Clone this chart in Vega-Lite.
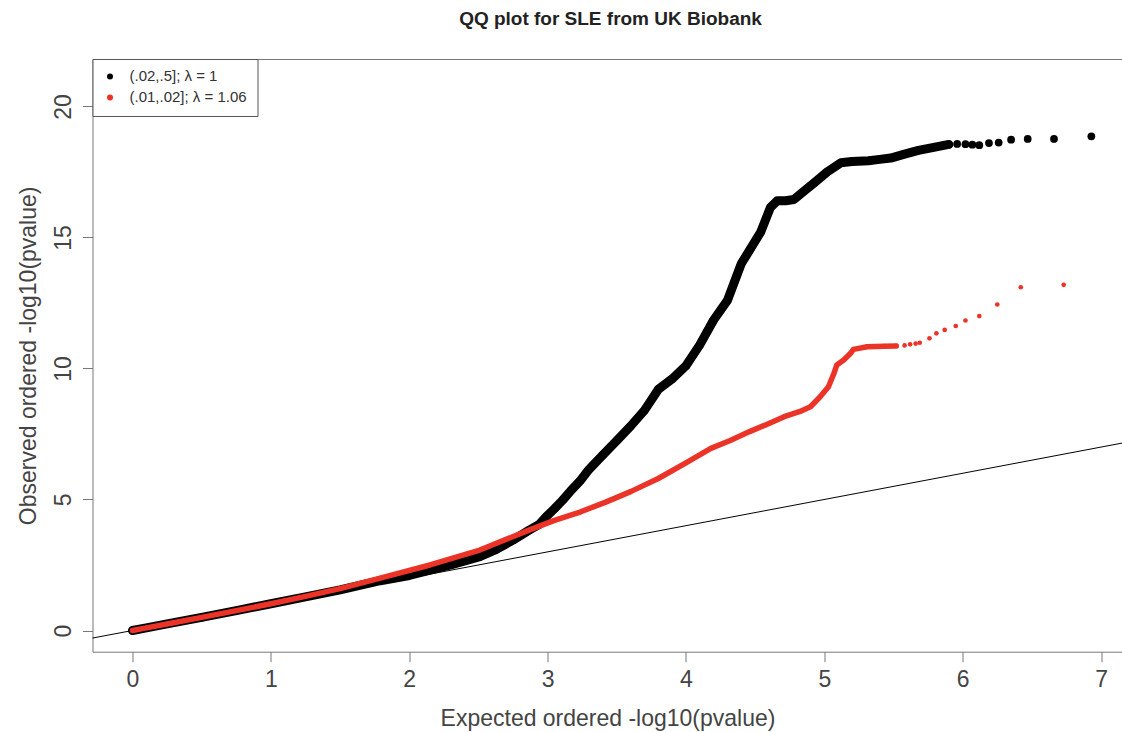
{
  "$schema": "https://vega.github.io/schema/vega-lite/v6.json",
  "width": 1030,
  "height": 592.7,
  "autosize": {"type": "none"},
  "padding": {"left": 92.5, "top": 59, "right": 0, "bottom": 80},
  "title": {"text": "QQ plot for SLE from UK Biobank", "fontSize": 19, "fontWeight": "bold", "font": "Liberation Sans", "color": "#222", "anchor": "middle", "offset": 29, "dx": 3},
  "datasets": {
    "ref": [{"x": -1, "y": -1}, {"x": 8, "y": 8}],
    "pts": [
      {"x": 0, "y": 0, "g": "(.02,.5]; λ = 1"},
      {"x": 0.1, "y": 0.1, "g": "(.02,.5]; λ = 1"},
      {"x": 0.25, "y": 0.25, "g": "(.02,.5]; λ = 1"},
      {"x": 0.5, "y": 0.5, "g": "(.02,.5]; λ = 1"},
      {"x": 0.75, "y": 0.76, "g": "(.02,.5]; λ = 1"},
      {"x": 1.0, "y": 1.02, "g": "(.02,.5]; λ = 1"},
      {"x": 1.25, "y": 1.28, "g": "(.02,.5]; λ = 1"},
      {"x": 1.5, "y": 1.55, "g": "(.02,.5]; λ = 1"},
      {"x": 1.79, "y": 1.9, "g": "(.02,.5]; λ = 1"},
      {"x": 2.0, "y": 2.1, "g": "(.02,.5]; λ = 1"},
      {"x": 2.15, "y": 2.3, "g": "(.02,.5]; λ = 1"},
      {"x": 2.3, "y": 2.5, "g": "(.02,.5]; λ = 1"},
      {"x": 2.51, "y": 2.82, "g": "(.02,.5]; λ = 1"},
      {"x": 2.63, "y": 3.1, "g": "(.02,.5]; λ = 1"},
      {"x": 2.75, "y": 3.45, "g": "(.02,.5]; λ = 1"},
      {"x": 2.87, "y": 3.84, "g": "(.02,.5]; λ = 1"},
      {"x": 2.94, "y": 4.05, "g": "(.02,.5]; λ = 1"},
      {"x": 2.99, "y": 4.34, "g": "(.02,.5]; λ = 1"},
      {"x": 3.05, "y": 4.65, "g": "(.02,.5]; λ = 1"},
      {"x": 3.11, "y": 4.98, "g": "(.02,.5]; λ = 1"},
      {"x": 3.17, "y": 5.35, "g": "(.02,.5]; λ = 1"},
      {"x": 3.24, "y": 5.74, "g": "(.02,.5]; λ = 1"},
      {"x": 3.3, "y": 6.15, "g": "(.02,.5]; λ = 1"},
      {"x": 3.4, "y": 6.7, "g": "(.02,.5]; λ = 1"},
      {"x": 3.5, "y": 7.25, "g": "(.02,.5]; λ = 1"},
      {"x": 3.6, "y": 7.8, "g": "(.02,.5]; λ = 1"},
      {"x": 3.7, "y": 8.4, "g": "(.02,.5]; λ = 1"},
      {"x": 3.8, "y": 9.2, "g": "(.02,.5]; λ = 1"},
      {"x": 3.9, "y": 9.6, "g": "(.02,.5]; λ = 1"},
      {"x": 4.0, "y": 10.1, "g": "(.02,.5]; λ = 1"},
      {"x": 4.1, "y": 10.9, "g": "(.02,.5]; λ = 1"},
      {"x": 4.2, "y": 11.85, "g": "(.02,.5]; λ = 1"},
      {"x": 4.3, "y": 12.6, "g": "(.02,.5]; λ = 1"},
      {"x": 4.4, "y": 14.0, "g": "(.02,.5]; λ = 1"},
      {"x": 4.47, "y": 14.6, "g": "(.02,.5]; λ = 1"},
      {"x": 4.54, "y": 15.2, "g": "(.02,.5]; λ = 1"},
      {"x": 4.61, "y": 16.14, "g": "(.02,.5]; λ = 1"},
      {"x": 4.66, "y": 16.4, "g": "(.02,.5]; λ = 1"},
      {"x": 4.72, "y": 16.4, "g": "(.02,.5]; λ = 1"},
      {"x": 4.78, "y": 16.45, "g": "(.02,.5]; λ = 1"},
      {"x": 4.85, "y": 16.75, "g": "(.02,.5]; λ = 1"},
      {"x": 4.93, "y": 17.1, "g": "(.02,.5]; λ = 1"},
      {"x": 5.02, "y": 17.5, "g": "(.02,.5]; λ = 1"},
      {"x": 5.12, "y": 17.85, "g": "(.02,.5]; λ = 1"},
      {"x": 5.2, "y": 17.9, "g": "(.02,.5]; λ = 1"},
      {"x": 5.32, "y": 17.93, "g": "(.02,.5]; λ = 1"},
      {"x": 5.4, "y": 17.98, "g": "(.02,.5]; λ = 1"},
      {"x": 5.48, "y": 18.03, "g": "(.02,.5]; λ = 1"},
      {"x": 5.58, "y": 18.18, "g": "(.02,.5]; λ = 1"},
      {"x": 5.68, "y": 18.32, "g": "(.02,.5]; λ = 1"},
      {"x": 5.8, "y": 18.45, "g": "(.02,.5]; λ = 1"},
      {"x": 5.9, "y": 18.55, "g": "(.02,.5]; λ = 1"},
      {"x": 5.96, "y": 18.57, "g": "(.02,.5]; λ = 1"},
      {"x": 6.02, "y": 18.56, "g": "(.02,.5]; λ = 1"},
      {"x": 6.07, "y": 18.54, "g": "(.02,.5]; λ = 1"},
      {"x": 6.12, "y": 18.52, "g": "(.02,.5]; λ = 1"},
      {"x": 6.19, "y": 18.6, "g": "(.02,.5]; λ = 1"},
      {"x": 6.26, "y": 18.62, "g": "(.02,.5]; λ = 1"},
      {"x": 6.35, "y": 18.73, "g": "(.02,.5]; λ = 1"},
      {"x": 6.47, "y": 18.76, "g": "(.02,.5]; λ = 1"},
      {"x": 6.66, "y": 18.76, "g": "(.02,.5]; λ = 1"},
      {"x": 6.93, "y": 18.86, "g": "(.02,.5]; λ = 1"},
      {"x": 0, "y": 0, "g": "(.01,.02]; λ = 1.06"},
      {"x": 0.1, "y": 0.1, "g": "(.01,.02]; λ = 1.06"},
      {"x": 0.25, "y": 0.25, "g": "(.01,.02]; λ = 1.06"},
      {"x": 0.5, "y": 0.5, "g": "(.01,.02]; λ = 1.06"},
      {"x": 0.75, "y": 0.76, "g": "(.01,.02]; λ = 1.06"},
      {"x": 1.0, "y": 1.02, "g": "(.01,.02]; λ = 1.06"},
      {"x": 1.25, "y": 1.3, "g": "(.01,.02]; λ = 1.06"},
      {"x": 1.5, "y": 1.6, "g": "(.01,.02]; λ = 1.06"},
      {"x": 1.79, "y": 2.0, "g": "(.01,.02]; λ = 1.06"},
      {"x": 2.15, "y": 2.5, "g": "(.01,.02]; λ = 1.06"},
      {"x": 2.51, "y": 3.07, "g": "(.01,.02]; λ = 1.06"},
      {"x": 2.87, "y": 3.84, "g": "(.01,.02]; λ = 1.06"},
      {"x": 3.05, "y": 4.2, "g": "(.01,.02]; λ = 1.06"},
      {"x": 3.24, "y": 4.53, "g": "(.01,.02]; λ = 1.06"},
      {"x": 3.42, "y": 4.9, "g": "(.01,.02]; λ = 1.06"},
      {"x": 3.6, "y": 5.3, "g": "(.01,.02]; λ = 1.06"},
      {"x": 3.8, "y": 5.8, "g": "(.01,.02]; λ = 1.06"},
      {"x": 4.0, "y": 6.4, "g": "(.01,.02]; λ = 1.06"},
      {"x": 4.18, "y": 6.95, "g": "(.01,.02]; λ = 1.06"},
      {"x": 4.32, "y": 7.25, "g": "(.01,.02]; λ = 1.06"},
      {"x": 4.46, "y": 7.59, "g": "(.01,.02]; λ = 1.06"},
      {"x": 4.6, "y": 7.9, "g": "(.01,.02]; λ = 1.06"},
      {"x": 4.71, "y": 8.16, "g": "(.01,.02]; λ = 1.06"},
      {"x": 4.82, "y": 8.35, "g": "(.01,.02]; λ = 1.06"},
      {"x": 4.9, "y": 8.54, "g": "(.01,.02]; λ = 1.06"},
      {"x": 4.97, "y": 8.92, "g": "(.01,.02]; λ = 1.06"},
      {"x": 5.03, "y": 9.3, "g": "(.01,.02]; λ = 1.06"},
      {"x": 5.07, "y": 9.82, "g": "(.01,.02]; λ = 1.06"},
      {"x": 5.09, "y": 10.13, "g": "(.01,.02]; λ = 1.06"},
      {"x": 5.14, "y": 10.32, "g": "(.01,.02]; λ = 1.06"},
      {"x": 5.19, "y": 10.58, "g": "(.01,.02]; λ = 1.06"},
      {"x": 5.21, "y": 10.73, "g": "(.01,.02]; λ = 1.06"},
      {"x": 5.31, "y": 10.83, "g": "(.01,.02]; λ = 1.06"},
      {"x": 5.43, "y": 10.85, "g": "(.01,.02]; λ = 1.06"},
      {"x": 5.52, "y": 10.86, "g": "(.01,.02]; λ = 1.06"},
      {"x": 5.58, "y": 10.88, "g": "(.01,.02]; λ = 1.06"},
      {"x": 5.62, "y": 10.92, "g": "(.01,.02]; λ = 1.06"},
      {"x": 5.66, "y": 10.95, "g": "(.01,.02]; λ = 1.06"},
      {"x": 5.69, "y": 10.98, "g": "(.01,.02]; λ = 1.06"},
      {"x": 5.76, "y": 11.15, "g": "(.01,.02]; λ = 1.06"},
      {"x": 5.81, "y": 11.34, "g": "(.01,.02]; λ = 1.06"},
      {"x": 5.87, "y": 11.47, "g": "(.01,.02]; λ = 1.06"},
      {"x": 5.95, "y": 11.62, "g": "(.01,.02]; λ = 1.06"},
      {"x": 6.02, "y": 11.83, "g": "(.01,.02]; λ = 1.06"},
      {"x": 6.12, "y": 12.0, "g": "(.01,.02]; λ = 1.06"},
      {"x": 6.25, "y": 12.44, "g": "(.01,.02]; λ = 1.06"},
      {"x": 6.42, "y": 13.1, "g": "(.01,.02]; λ = 1.06"},
      {"x": 6.73, "y": 13.19, "g": "(.01,.02]; λ = 1.06"}
    ]
  },
  "layer": [
    {
      "data": {"name": "ref"},
      "mark": {"type": "line", "color": "black", "strokeWidth": 1, "clip": true},
      "encoding": {
        "x": {"field": "x", "type": "quantitative", "scale": {"domain": [-0.289, 7.155], "nice": false, "zero": false},
              "axis": {"orient": "top", "labels": false, "ticks": false, "title": null, "domain": true}},
        "y": {"field": "y", "type": "quantitative", "scale": {"domain": [-0.809, 21.81], "nice": false, "zero": false},
              "axis": {"orient": "left", "values": [0, 5, 10, 15, 20], "title": "Observed ordered -log10(pvalue)",
                       "labelAngle": 270, "labelAlign": "center", "labelBaseline": "bottom", "labelPadding": 7, "titlePadding": 12}}
      }
    },
    {
      "data": {"name": "pts"},
      "transform": [{"filter": "datum.g == '(.02,.5]; λ = 1' && datum.x < 5.92"}],
      "mark": {"type": "line", "color": "black", "strokeWidth": 9, "strokeCap": "round", "strokeJoin": "round", "clip": true},
      "encoding": {
        "x": {"field": "x", "type": "quantitative", "scale": {"domain": [-0.289, 7.155], "nice": false, "zero": false},
              "axis": {"orient": "bottom", "values": [0, 1, 2, 3, 4, 5, 6, 7], "title": "Expected ordered -log10(pvalue)", "labelPadding": 7, "titlePadding": 16}},
        "y": {"field": "y", "type": "quantitative", "scale": {"domain": [-0.809, 21.81], "nice": false, "zero": false}, "axis": null}
      }
    },
    {
      "data": {"name": "pts"},
      "transform": [{"filter": "datum.g == '(.02,.5]; λ = 1'"}],
      "mark": {"type": "point", "filled": true, "opacity": 1, "size": 60, "shape": "circle", "clip": true},
      "encoding": {
        "x": {"field": "x", "type": "quantitative", "scale": {"domain": [-0.289, 7.155], "nice": false, "zero": false}, "axis": null},
        "y": {"field": "y", "type": "quantitative", "scale": {"domain": [-0.809, 21.81], "nice": false, "zero": false}, "axis": null},
        "color": {"field": "g", "type": "nominal", "scale": {"domain": ["(.02,.5]; λ = 1", "(.01,.02]; λ = 1.06"], "range": ["#000000", "#ec3328"]}, "title": null}
      }
    },
    {
      "data": {"name": "pts"},
      "transform": [{"filter": "datum.g == '(.01,.02]; λ = 1.06' && datum.x < 5.56"}],
      "mark": {"type": "line", "color": "#ec3328", "strokeWidth": 5.5, "strokeCap": "round", "strokeJoin": "round", "clip": true},
      "encoding": {
        "x": {"field": "x", "type": "quantitative", "scale": {"domain": [-0.289, 7.155], "nice": false, "zero": false}, "axis": null},
        "y": {"field": "y", "type": "quantitative", "scale": {"domain": [-0.809, 21.81], "nice": false, "zero": false}, "axis": null}
      }
    },
    {
      "data": {"name": "pts"},
      "transform": [{"filter": "datum.g == '(.01,.02]; λ = 1.06'"}],
      "mark": {"type": "point", "filled": true, "opacity": 1, "size": 22, "shape": "circle", "clip": true},
      "encoding": {
        "x": {"field": "x", "type": "quantitative", "scale": {"domain": [-0.289, 7.155], "nice": false, "zero": false}, "axis": null},
        "y": {"field": "y", "type": "quantitative", "scale": {"domain": [-0.809, 21.81], "nice": false, "zero": false}, "axis": null},
        "color": {"field": "g", "type": "nominal", "scale": {"domain": ["(.02,.5]; λ = 1", "(.01,.02]; λ = 1.06"], "range": ["#000000", "#ec3328"]}, "title": null}
      }
    }
  ],
  "resolve": {"axis": {"x": "independent", "y": "independent"}},
  "config": {
    "view": {"stroke": null},
    "font": "Liberation Sans",
    "axis": {
      "domainColor": "#777", "domainWidth": 1, "tickColor": "#777", "tickSize": 10,
      "labelColor": "#444", "titleColor": "#444", "labelFontSize": 23, "titleFontSize": 23,
      "titleFontWeight": "normal", "labelFont": "Liberation Sans", "titleFont": "Liberation Sans",
      "grid": false, "labelFlush": false, "labelOverlap": false
    },
    "legend": {
      "orient": "top-left", "offset": 0, "padding": 10, "strokeColor": "#555", "strokeWidth": 1, "fillColor": "white",
      "labelFontSize": 15, "labelColor": "#333", "labelFont": "Liberation Sans", "symbolSize": 36, "symbolType": "circle",
      "symbolStrokeWidth": 0, "rowPadding": 5, "labelOffset": 12
    }
  }
}
